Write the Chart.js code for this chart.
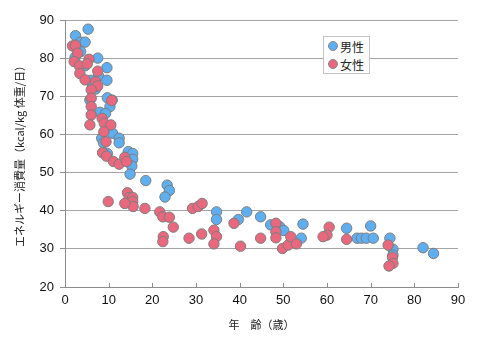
<!DOCTYPE html>
<html>
<head>
<meta charset="utf-8">
<script src="https://cdn.jsdelivr.net/npm/chart.js@4"></script>
<style>
  html, body { margin: 0; padding: 0; background: #fff; }
  #wrap { position: relative; width: 495px; height: 343px; }
  #legend {
    position: absolute; left: 323px; top: 36px; width: 45px; height: 36px;
    background: #fff; border: 1px solid #c4c4c4;
    font: 12px "Noto Sans CJK JP", sans-serif; color: #222;
  }
  #legend .row { display: flex; align-items: center; height: 18px; padding-left: 4px; }
  #legend .dot { width: 10px; height: 10px; border-radius: 50%; border: 1px solid #888; margin-right: 2px; box-sizing: border-box; }
</style>
</head>
<body>
<div id="wrap">
  <canvas id="c" width="495" height="343"></canvas>
  <div id="legend"></div>
</div>
<script>
// 男性 (年齢, kcal/kg/日)
const maleAge = [5.3, 2.4, 3.6, 4.6, 3.6, 2.3, 7.5, 9.6, 4.6, 7.7, 9.6, 5.9, 6.3, 7.0, 5.7, 9.7, 10.8, 10.3, 8.0, 9.3,
  10.9, 8.4, 8.8, 12.4, 12.4, 9.7, 14.5, 15.5, 15.5, 15.3, 14.9, 18.5, 23.4, 23.9, 22.9, 34.7, 34.7, 39.7, 41.6, 44.8,
  47.1, 49.2, 50.1, 54.5, 54.1, 64.5, 66.9, 67.9, 69.0, 70.6, 70.0, 74.4, 75.1, 75.1, 82.0, 84.4];
const maleKcal = [87.6, 85.9, 84.2, 84.2, 81.7, 80.2, 80.0, 77.5, 78.0, 75.3, 74.2, 74.2, 72.5, 71.9, 69.0, 69.6, 69.0, 67.3, 65.8, 65.5,
  60.3, 59.0, 57.8, 59.0, 57.8, 55.0, 55.5, 55.0, 53.5, 51.7, 49.6, 47.9, 46.7, 45.3, 43.6, 39.7, 37.7, 37.7, 39.7, 38.4,
  36.3, 35.8, 34.8, 36.5, 32.8, 35.4, 32.8, 32.8, 32.8, 32.8, 36.0, 32.8, 29.9, 28.4, 30.3, 28.8];

// 女性
const femaleAge = [1.7, 2.4, 2.9, 2.1, 3.3, 5.5, 5.1, 3.4, 7.5, 4.6, 7.0, 7.5, 6.0, 6.0, 10.7, 6.0, 6.0, 5.7, 8.5, 9.0,
  10.5, 8.9, 9.4, 8.6, 9.5, 11.1, 12.4, 13.7, 14.1, 14.3, 14.7, 15.5, 15.5, 15.6, 13.7, 9.9, 18.3, 21.7, 22.4, 23.9,
  24.8, 22.5, 22.4, 28.4, 31.3, 29.2, 30.5, 31.4, 34.1, 34.7, 34.1, 38.7, 40.2, 44.8, 48.3, 48.3, 48.3, 49.8, 51.1, 51.7,
  53.0, 60.5, 60.0, 59.1, 64.5, 74.0, 75.0, 75.1, 74.2];
const femaleKcal = [83.2, 83.4, 81.3, 79.1, 78.0, 79.7, 78.5, 76.0, 76.6, 74.3, 73.8, 72.7, 71.7, 69.5, 68.9, 67.3, 65.1, 62.5, 64.2, 62.9,
  62.5, 60.7, 58.1, 55.2, 54.3, 52.9, 52.2, 54.0, 52.9, 44.7, 43.5, 43.5, 42.4, 41.1, 41.9, 42.4, 40.6, 39.7, 38.4, 38.3,
  35.7, 33.2, 31.9, 32.8, 33.9, 40.6, 41.1, 41.9, 34.9, 33.2, 31.3, 36.7, 30.7, 32.8, 36.7, 34.5, 32.9, 30.1, 31.0, 33.2,
  31.3, 35.7, 33.6, 33.2, 32.5, 31.0, 27.8, 26.2, 25.5];

const xTicks = [0, 10, 20, 30, 40, 50, 60, 70, 80, 90];
const yTicks = [20, 30, 40, 50, 60, 70, 80, 90];

const seriesNames = ["男性", "女性"];
const seriesColors = ["#5eaef2", "#e9687e"];

function toPoints(xs, ys) {
  return xs.map((x, i) => ({ x, y: ys[i] }));
}

const tickFont = { family: "'Liberation Sans', Arial, sans-serif", size: 13 };
const jpFont = { family: "'Noto Sans CJK JP', sans-serif", size: 11 };

// x軸の内向き目盛り
const innerTicks = {
  id: "innerTicks",
  afterDatasetsDraw(chart) {
    const { ctx, scales: { x }, chartArea } = chart;
    ctx.save();
    ctx.strokeStyle = "#8c8c8c";
    ctx.lineWidth = 1;
    xTicks.forEach(v => {
      const px = Math.round(x.getPixelForValue(v)) + 0.5;
      ctx.beginPath();
      ctx.moveTo(px, chartArea.bottom);
      ctx.lineTo(px, chartArea.bottom - 4);
      ctx.stroke();
    });
    ctx.restore();
  }
};

const chart = new Chart(document.getElementById("c"), {
  type: "scatter",
  data: {
    datasets: [
      { label: seriesNames[0], data: toPoints(maleAge, maleKcal), backgroundColor: seriesColors[0],
        borderColor: "#7d7d7d", borderWidth: 1, pointRadius: 5.2, order: 2 },
      { label: seriesNames[1], data: toPoints(femaleAge, femaleKcal), backgroundColor: seriesColors[1],
        borderColor: "#7d7d7d", borderWidth: 1, pointRadius: 5.2, order: 1 }
    ]
  },
  options: {
    responsive: false,
    animation: false,
    layout: { padding: { left: 0, top: 20, right: 37, bottom: 0 } },
    plugins: { legend: { display: false }, tooltip: { enabled: false } },
    scales: {
      x: {
        type: "linear", min: 0, max: 90,
        afterBuildTicks: s => { s.ticks = xTicks.map(v => ({ value: v })); },
        afterFit: s => { s.height = 56; },
        grid: { display: true, drawOnChartArea: false, drawTicks: false },
        border: { color: "#8c8c8c" },
        ticks: { font: tickFont, color: "#111", padding: 6, maxRotation: 0 },
        title: { display: true, text: "年　齢（歳）", font: jpFont, color: "#222", padding: { top: 0, bottom: 12 } }
      },
      y: {
        type: "linear", min: 20, max: 90,
        afterBuildTicks: s => { s.ticks = yTicks.map(v => ({ value: v })); },
        afterFit: s => { s.width = 65; },
        grid: { color: "#a8a4a4", tickLength: 5, tickColor: "#8c8c8c" },
        border: { color: "#8c8c8c" },
        ticks: { font: tickFont, color: "#111", padding: 6 },
        title: { display: true, text: "エネルギー消費量（kcal/kg 体重/日）", font: jpFont, color: "#222", padding: { top: 13, bottom: 0 } }
      }
    }
  },
  plugins: [innerTicks]
});

// 凡例
const legend = document.getElementById("legend");
chart.data.datasets.forEach(ds => {
  const row = document.createElement("div");
  row.className = "row";
  const dot = document.createElement("span");
  dot.className = "dot";
  dot.style.background = ds.backgroundColor;
  const label = document.createElement("span");
  label.textContent = ds.label;
  row.appendChild(dot);
  row.appendChild(label);
  legend.appendChild(row);
});
</script>
</body>
</html>
